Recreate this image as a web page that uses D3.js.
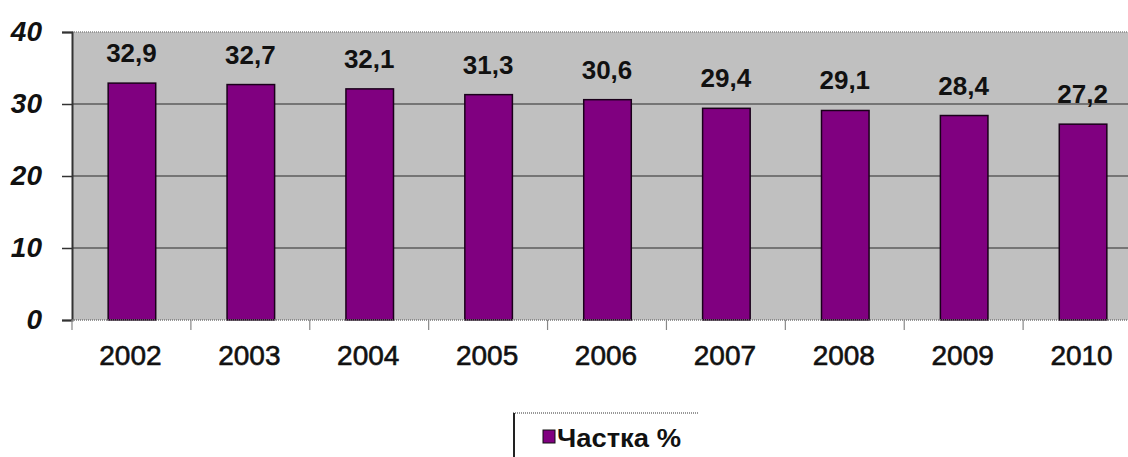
<!DOCTYPE html>
<html><head><meta charset="utf-8">
<script src="https://cdn.jsdelivr.net/npm/d3@7"></script>
<style>body{margin:0;background:#fff}svg{display:block}</style>
</head><body>
<svg id="c" width="1128" height="457"></svg>
<script>
const categories = ["2002","2003","2004","2005","2006","2007","2008","2009","2010"];
const values = [32.9,32.7,32.1,31.3,30.6,29.4,29.1,28.4,27.2];
const valueLabels = ["32,9","32,7","32,1","31,3","30,6","29,4","29,1","28,4","27,2"];
const yTicks = [0,10,20,30,40];
const seriesName = "Частка %";

(function(){
const svg = d3.select("#c");
const pL = 72, pT = 32, pB = 320, pR = 1142;
const x = d3.scaleBand().domain(categories).range([pL, pR]).padding(0);
const y = d3.scaleLinear().domain([0,40]).range([pB, pT]);
const font = "Arial, 'Liberation Sans', sans-serif";

// plot background
svg.append("rect").attr("x", pL).attr("y", pT).attr("width", pR-pL).attr("height", pB-pT).attr("fill", "#c0c0c0");

// gridlines
svg.append("g").selectAll("line").data(yTicks.filter(t => t>0 && t<40)).join("line")
  .attr("x1", pL).attr("x2", pR).attr("y1", d=>y(d)).attr("y2", d=>y(d))
  .attr("stroke", "#2a2a2a").attr("stroke-width", 1.2);
// top border dotted
svg.append("line").attr("x1", pL).attr("x2", pR).attr("y1", y(40)).attr("y2", y(40))
  .attr("stroke", "#888").attr("stroke-width", 1.5).attr("stroke-dasharray", "1,1");

// bars
const bw = x.bandwidth()*0.4;
svg.append("g").selectAll("rect").data(values).join("rect")
  .attr("x", (d,i)=>x(categories[i]) + (x.bandwidth()-bw)/2 + 0.5)
  .attr("y", d=>y(d))
  .attr("width", bw).attr("height", d=>y(0)-y(d))
  .attr("fill", "#800080").attr("stroke", "#1a001a").attr("stroke-width", 1.5);

// value labels
svg.append("g").selectAll("text").data(values).join("text")
  .attr("x", (d,i)=>x(categories[i]) + x.bandwidth()/2)
  .attr("y", d=>y(d) - 21)
  .attr("text-anchor", "middle")
  .attr("font-family", font).attr("font-weight", "bold").attr("font-size", 26)
  .attr("fill", "#111")
  .text((d,i)=>valueLabels[i]);

// y axis
const yAxis = d3.axisLeft(y).tickValues(yTicks).tickSize(10).tickFormat(d3.format("d"));
const ya = svg.append("g").attr("transform", `translate(${pL},0)`).call(yAxis);
ya.select(".domain").attr("stroke", "#333").attr("stroke-width", 2);
ya.selectAll(".tick line").attr("stroke", "#333").attr("stroke-width", 1.5);
ya.selectAll(".tick text")
  .attr("x", -30).attr("dy", "0.3em")
  .attr("font-family", font).attr("font-weight", "bold").attr("font-style", "italic")
  .attr("font-size", 28).attr("fill", "#111");

// x axis
const xa = svg.append("g").attr("transform", `translate(0,${pB})`);
xa.append("line").attr("x1", pL).attr("x2", pR).attr("y1", 0).attr("y2", 0)
  .attr("stroke", "#777").attr("stroke-width", 1.5).attr("stroke-dasharray", "1,1");
xa.selectAll("line.tk").data(categories).join("line").attr("class","tk")
  .attr("x1", d=>x(d)).attr("x2", d=>x(d)).attr("y1", 0).attr("y2", 10)
  .attr("stroke", "#888").attr("stroke-width", 1.2);
xa.selectAll("text").data(categories).join("text")
  .attr("x", d=>x(d) + x.bandwidth()/2 - 1)
  .attr("y", 45)
  .attr("text-anchor", "middle")
  .attr("font-family", font).attr("font-size", 28).attr("fill", "#111")
  .attr("stroke", "#111").attr("stroke-width", 0.6)
  .text(d=>d);

// legend
const lg = svg.append("g");
lg.append("rect").attr("x", 513).attr("y", 413).attr("width", 185).attr("height", 60).attr("fill", "#fff");
lg.append("line").attr("x1", 513).attr("x2", 698).attr("y1", 413).attr("y2", 413)
  .attr("stroke", "#777").attr("stroke-width", 1.5).attr("stroke-dasharray", "1,1");
lg.append("line").attr("x1", 514).attr("x2", 514).attr("y1", 413).attr("y2", 457)
  .attr("stroke", "#222").attr("stroke-width", 2);
lg.append("rect").attr("x", 543).attr("y", 430).attr("width", 12).attr("height", 13)
  .attr("fill", "#800080").attr("stroke", "#111").attr("stroke-width", 1);
lg.append("text").attr("x", 557).attr("y", 447)
  .attr("font-family", font).attr("font-weight", "bold").attr("font-size", 26)
  .attr("textLength", 124).attr("lengthAdjust", "spacingAndGlyphs")
  .attr("fill", "#111").text(seriesName);
})();
</script>
</body></html>
